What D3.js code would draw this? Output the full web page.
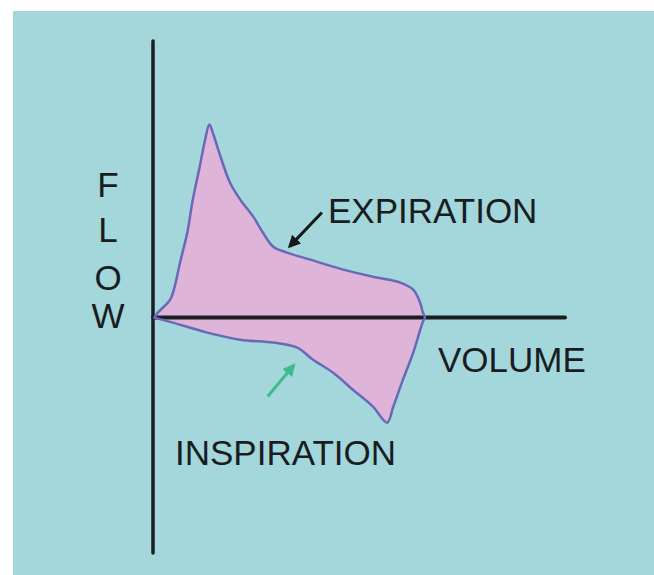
<!DOCTYPE html>
<html lang="en">
    <head>
        <meta charset="utf-8">
        <title>Flow Volume Loop</title>
        <script src="https://d3js.org/d3.v7.min.js"></script>
        <style type="text/css">
        body {
            margin: 0;
            background: #ffffff;
        }
        .label {
            font-size: 35px;
            font-family: "Liberation Sans", Arial, sans-serif;
            fill: #1a1d1f;
        }
        </style>
    </head>
    <body>
    <div id="vis"></div>

    <script type="text/javascript">

        const width = 654;
        const height = 575;

        // expiration limb (volume in L, flow in L/s)
        const expVolume = [0.02, 0.07, 0.25, 0.33, 0.38, 0.44, 0.50, 0.58, 0.68, 0.76, 0.82, 0.87, 0.95, 1.12, 1.27, 1.46, 1.60, 1.75, 1.95, 2.29, 2.77, 3.26, 3.60, 3.79, 3.89, 3.93, 3.96];
        const expFlow   = [0.00, 0.17, 0.61, 1.19, 1.73, 2.31, 2.89, 4.01, 5.13, 6.05, 6.56, 6.29, 5.71, 4.59, 4.01, 3.43, 2.89, 2.41, 2.21, 1.97, 1.63, 1.36, 1.19, 0.95, 0.51, 0.17, 0.00];

        // inspiration limb, going back from end of expiration to origin
        const insVolume = [3.93, 3.79, 3.64, 3.50, 3.41, 3.20, 2.91, 2.62, 2.33, 2.10, 1.75, 1.27, 0.79, 0.29, 0.02];
        const insFlow   = [-0.14, -1.19, -2.11, -3.02, -3.57, -3.02, -2.45, -1.87, -1.43, -1.02, -0.85, -0.75, -0.51, -0.17, 0.00];

        // axis extents
        const volumeMax = 6;
        const flowMin = -8;
        const flowMax = 9.4;

        // annotation arrows [fromVolume, fromFlow, toVolume, toFlow]
        const expArrow = [2.46, 3.57, 1.99, 2.42];
        const insArrow = [1.67, -2.68, 2.05, -1.62];

        const xScale = d3.scaleLinear()
                         .domain([0, volumeMax])
                         .range([153, 565]);

        const yScale = d3.scaleLinear()
                         .domain([flowMin, flowMax])
                         .range([553, 41]);

        const loop = expVolume.map((v, i) => [v, expFlow[i]])
                        .concat(insVolume.map((v, i) => [v, insFlow[i]]));

        const svg = d3.select("#vis")
                      .append("svg")
                      .attr("width", width)
                      .attr("height", height);

        const defs = svg.append("defs");
        [["headBlack", "#15191b"], ["headGreen", "#3dbb8c"]].forEach(m => {
            defs.append("marker")
                .attr("id", m[0])
                .attr("viewBox", "0 0 10 10")
                .attr("refX", 8)
                .attr("refY", 5)
                .attr("markerWidth", 4.2)
                .attr("markerHeight", 4.2)
                .attr("orient", "auto")
              .append("path")
                .attr("d", "M0,0 L10,5 L0,10 z")
                .attr("fill", m[1]);
        });

        // background panel
        svg.append("rect")
           .attr("x", 13)
           .attr("y", 11)
           .attr("width", width - 13)
           .attr("height", height - 11)
           .attr("fill", "#a3d7db");

        const line = d3.line()
                       .x(d => xScale(d[0]))
                       .y(d => yScale(d[1]))
                       .curve(d3.curveCatmullRom.alpha(0.5));

        // pink fill
        svg.append("path")
           .attr("d", line(loop) + "Z")
           .attr("fill", "#deb5d8");

        // axes
        svg.append("line")
           .attr("x1", xScale(0)).attr("x2", xScale(0))
           .attr("y1", yScale(flowMax)).attr("y2", yScale(flowMin))
           .attr("stroke", "#1a1f22")
           .attr("stroke-width", 3.5)
           .attr("stroke-linecap", "round");

        svg.append("line")
           .attr("x1", xScale(0)).attr("x2", xScale(volumeMax))
           .attr("y1", yScale(0)).attr("y2", yScale(0))
           .attr("stroke", "#1a1f22")
           .attr("stroke-width", 4)
           .attr("stroke-linecap", "round");

        // outline on top
        svg.append("path")
           .attr("d", line(loop) + "Z")
           .attr("fill", "none")
           .attr("stroke", "#6a68b8")
           .attr("stroke-width", 2.5)
           .attr("stroke-linejoin", "round");

        // arrows
        [[expArrow, "#15191b", "headBlack"], [insArrow, "#3dbb8c", "headGreen"]].forEach(a => {
            svg.append("line")
               .attr("x1", xScale(a[0][0])).attr("y1", yScale(a[0][1]))
               .attr("x2", xScale(a[0][2])).attr("y2", yScale(a[0][3]))
               .attr("stroke", a[1])
               .attr("stroke-width", 3)
               .attr("marker-end", "url(#" + a[2] + ")");
        });

        // labels
        svg.append("text")
           .attr("class", "label")
           .attr("x", 328).attr("y", 223)
           .text("EXPIRATION");

        svg.append("text")
           .attr("class", "label")
           .attr("x", 175).attr("y", 465)
           .text("INSPIRATION");

        svg.append("text")
           .attr("class", "label")
           .attr("x", 438).attr("y", 372)
           .text("VOLUME");

        const flowLetters = ["F", "L", "O", "W"];
        const letterBase = [197, 242, 290, 328];
        flowLetters.forEach((c, i) => {
            svg.append("text")
               .attr("class", "label")
               .attr("x", 108).attr("y", letterBase[i])
               .attr("text-anchor", "middle")
               .text(c);
        });

    </script>
    </body>
</html>
